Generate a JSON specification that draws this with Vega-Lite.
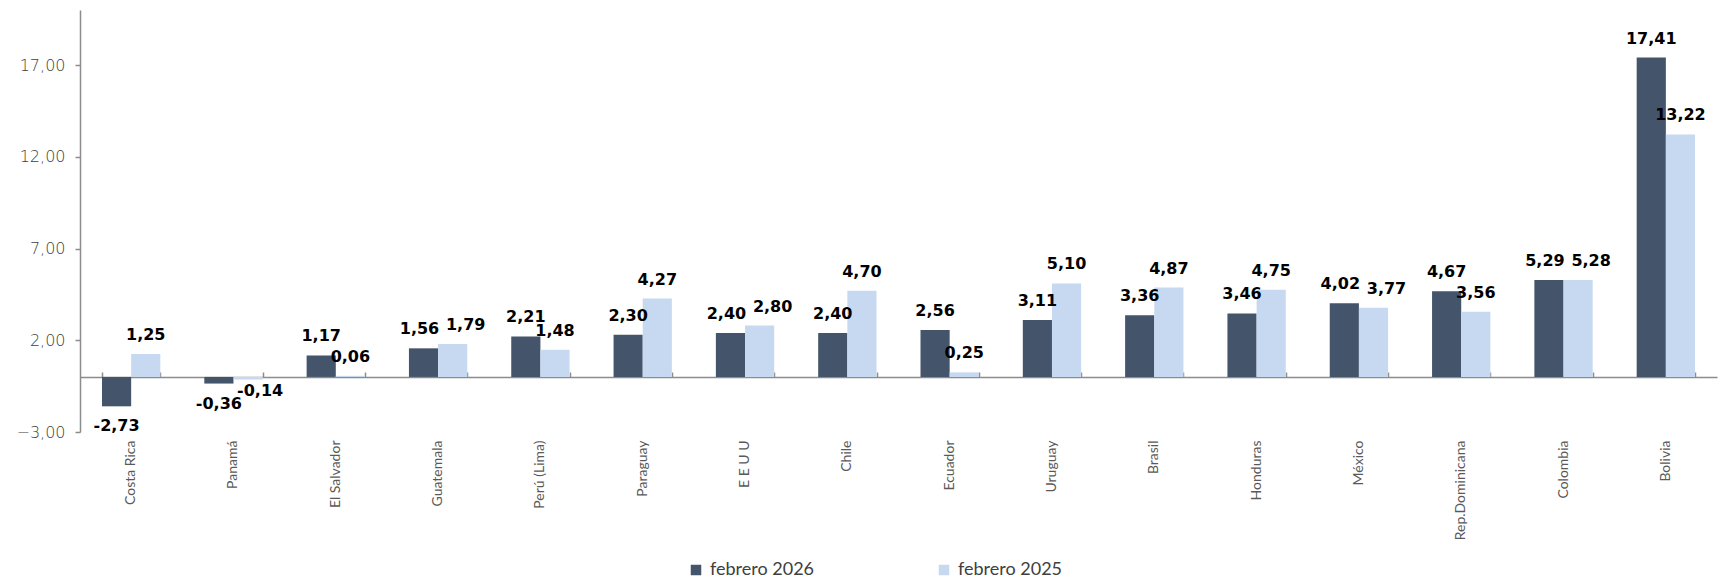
{
  "$schema": "https://vega.github.io/schema/vega-lite/v6.json",
  "width": 1637,
  "height": 422,
  "autosize": {"type": "none"},
  "padding": {"left": 80, "top": 10, "right": 9, "bottom": 146},
  "config": {
    "view": {"stroke": null},
    "font": "Lato"
  },
  "data": {
    "values": [
      {"pais": "Costa Rica", "periodo": "febrero 2026", "valor": -1.6, "etiqueta": "-2,73"},
      {"pais": "Costa Rica", "periodo": "febrero 2025", "valor": 1.25, "etiqueta": "1,25"},
      {"pais": "Panamá", "periodo": "febrero 2026", "valor": -0.36, "etiqueta": "-0,36"},
      {"pais": "Panamá", "periodo": "febrero 2025", "valor": -0.14, "etiqueta": "-0,14"},
      {"pais": "El Salvador", "periodo": "febrero 2026", "valor": 1.17, "etiqueta": "1,17"},
      {"pais": "El Salvador", "periodo": "febrero 2025", "valor": 0.06, "etiqueta": "0,06"},
      {"pais": "Guatemala", "periodo": "febrero 2026", "valor": 1.56, "etiqueta": "1,56"},
      {"pais": "Guatemala", "periodo": "febrero 2025", "valor": 1.79, "etiqueta": "1,79"},
      {"pais": "Perú (Lima)", "periodo": "febrero 2026", "valor": 2.21, "etiqueta": "2,21"},
      {"pais": "Perú (Lima)", "periodo": "febrero 2025", "valor": 1.48, "etiqueta": "1,48"},
      {"pais": "Paraguay", "periodo": "febrero 2026", "valor": 2.30, "etiqueta": "2,30"},
      {"pais": "Paraguay", "periodo": "febrero 2025", "valor": 4.27, "etiqueta": "4,27"},
      {"pais": "E E U U", "periodo": "febrero 2026", "valor": 2.40, "etiqueta": "2,40"},
      {"pais": "E E U U", "periodo": "febrero 2025", "valor": 2.80, "etiqueta": "2,80"},
      {"pais": "Chile", "periodo": "febrero 2026", "valor": 2.40, "etiqueta": "2,40"},
      {"pais": "Chile", "periodo": "febrero 2025", "valor": 4.70, "etiqueta": "4,70"},
      {"pais": "Ecuador", "periodo": "febrero 2026", "valor": 2.56, "etiqueta": "2,56"},
      {"pais": "Ecuador", "periodo": "febrero 2025", "valor": 0.25, "etiqueta": "0,25"},
      {"pais": "Uruguay", "periodo": "febrero 2026", "valor": 3.11, "etiqueta": "3,11"},
      {"pais": "Uruguay", "periodo": "febrero 2025", "valor": 5.10, "etiqueta": "5,10"},
      {"pais": "Brasil", "periodo": "febrero 2026", "valor": 3.36, "etiqueta": "3,36"},
      {"pais": "Brasil", "periodo": "febrero 2025", "valor": 4.87, "etiqueta": "4,87"},
      {"pais": "Honduras", "periodo": "febrero 2026", "valor": 3.46, "etiqueta": "3,46"},
      {"pais": "Honduras", "periodo": "febrero 2025", "valor": 4.75, "etiqueta": "4,75"},
      {"pais": "México", "periodo": "febrero 2026", "valor": 4.02, "etiqueta": "4,02"},
      {"pais": "México", "periodo": "febrero 2025", "valor": 3.77, "etiqueta": "3,77"},
      {"pais": "Rep.Dominicana", "periodo": "febrero 2026", "valor": 4.67, "etiqueta": "4,67"},
      {"pais": "Rep.Dominicana", "periodo": "febrero 2025", "valor": 3.56, "etiqueta": "3,56"},
      {"pais": "Colombia", "periodo": "febrero 2026", "valor": 5.29, "etiqueta": "5,29"},
      {"pais": "Colombia", "periodo": "febrero 2025", "valor": 5.28, "etiqueta": "5,28"},
      {"pais": "Bolivia", "periodo": "febrero 2026", "valor": 17.41, "etiqueta": "17,41"},
      {"pais": "Bolivia", "periodo": "febrero 2025", "valor": 13.22, "etiqueta": "13,22"}
    ]
  },
  "transform": [
    {"joinaggregate": [{"op": "max", "field": "valor", "as": "vmax"}, {"op": "min", "field": "valor", "as": "vmin"}], "groupby": ["pais"]}
  ],
  "layer": [
    {
      "mark": {"type": "bar"},
      "encoding": {
        "x": {
          "field": "pais", "type": "nominal", "sort": null,
          "scale": {"paddingInner": 0.43, "paddingOuter": 0.215},
          "axis": {"title": null, "orient": "bottom", "domain": false, "ticks": false, "labelAngle": -90, "labelAlign": "right", "labelBaseline": "middle", "labelPadding": 8, "labelFontSize": 14, "labelColor": "#595959"}
        },
        "xOffset": {"field": "periodo", "type": "nominal", "sort": ["febrero 2026", "febrero 2025"]},
        "y": {
          "field": "valor", "type": "quantitative",
          "scale": {"domain": [-3, 20], "nice": false, "zero": false},
          "axis": {"title": null, "values": [-3, 2, 7, 12, 17], "labelExpr": "replace(format(datum.value, '.2f'), '.', ',')", "grid": false, "domainColor": "#8c8c8c", "domainWidth": 1.5, "tickColor": "#8c8c8c", "tickSize": 5, "tickWidth": 1.5, "labelFont": "DejaVu Sans", "labelFontWeight": 200, "labelFontSize": 16, "labelColor": "#404040", "labelPadding": 10}
        },
        "color": {
          "field": "periodo", "type": "nominal", "sort": ["febrero 2026", "febrero 2025"],
          "scale": {"range": ["#44546A", "#C6D9F0"]},
          "legend": {"title": null, "orient": "none", "legendX": 607, "legendY": 551, "direction": "horizontal", "columns": 2, "symbolType": "square", "symbolSize": 110, "symbolStrokeWidth": 0, "labelFontSize": 18, "labelColor": "#404040", "columnPadding": 120, "labelOffset": 5, "padding": 0}
        }
      }
    },
    {
      "transform": [{"filter": "datum.valor >= 0 && (datum.vmax - datum.vmin) >= 0.6"}],
      "mark": {"type": "text", "baseline": "alphabetic", "dy": -14, "font": "DejaVu Sans", "fontSize": 16, "fontWeight": "bold", "color": "#000000"},
      "encoding": {
        "x": {"field": "pais", "type": "nominal", "sort": null, "axis": null},
        "xOffset": {"field": "periodo", "type": "nominal", "sort": ["febrero 2026", "febrero 2025"]},
        "y": {"field": "valor", "type": "quantitative"},
        "text": {"field": "etiqueta", "type": "nominal"}
      }
    },
    {
      "transform": [{"filter": "datum.valor >= 0 && (datum.vmax - datum.vmin) < 0.6 && datum.periodo == 'febrero 2026'"}],
      "mark": {"type": "text", "baseline": "alphabetic", "dy": -14, "dx": -4, "font": "DejaVu Sans", "fontSize": 16, "fontWeight": "bold", "color": "#000000"},
      "encoding": {
        "x": {"field": "pais", "type": "nominal", "sort": null, "axis": null},
        "xOffset": {"field": "periodo", "type": "nominal", "sort": ["febrero 2026", "febrero 2025"]},
        "y": {"field": "valor", "type": "quantitative"},
        "text": {"field": "etiqueta", "type": "nominal"}
      }
    },
    {
      "transform": [{"filter": "datum.valor >= 0 && (datum.vmax - datum.vmin) < 0.6 && datum.periodo == 'febrero 2025'"}],
      "mark": {"type": "text", "baseline": "alphabetic", "dy": -14, "dx": 13, "font": "DejaVu Sans", "fontSize": 16, "fontWeight": "bold", "color": "#000000"},
      "encoding": {
        "x": {"field": "pais", "type": "nominal", "sort": null, "axis": null},
        "xOffset": {"field": "periodo", "type": "nominal", "sort": ["febrero 2026", "febrero 2025"]},
        "y": {"field": "valor", "type": "quantitative"},
        "text": {"field": "etiqueta", "type": "nominal"}
      }
    },
    {
      "transform": [{"filter": "datum.valor < 0 && datum.periodo == 'febrero 2026'"}],
      "mark": {"type": "text", "baseline": "top", "dy": 12, "font": "DejaVu Sans", "fontSize": 16, "fontWeight": "bold", "color": "#000000"},
      "encoding": {
        "x": {"field": "pais", "type": "nominal", "sort": null, "axis": null},
        "xOffset": {"field": "periodo", "type": "nominal", "sort": ["febrero 2026", "febrero 2025"]},
        "y": {"field": "valor", "type": "quantitative"},
        "text": {"field": "etiqueta", "type": "nominal"}
      }
    },
    {
      "transform": [{"filter": "datum.valor < 0 && datum.periodo == 'febrero 2025'"}],
      "mark": {"type": "text", "baseline": "top", "align": "left", "dx": -11, "dy": 3, "font": "DejaVu Sans", "fontSize": 16, "fontWeight": "bold", "color": "#000000"},
      "encoding": {
        "x": {"field": "pais", "type": "nominal", "sort": null, "axis": null},
        "xOffset": {"field": "periodo", "type": "nominal", "sort": ["febrero 2026", "febrero 2025"]},
        "y": {"field": "valor", "type": "quantitative"},
        "text": {"field": "etiqueta", "type": "nominal"}
      }
    },
    {
      "mark": {"type": "text", "text": ""},
      "encoding": {
        "x": {
          "field": "pais", "type": "nominal", "sort": null,
          "axis": {"title": null, "orient": "bottom", "labels": false, "offset": -55, "domainColor": "#8c8c8c", "domainWidth": 1.5, "tickBand": "extent", "tickColor": "#8c8c8c", "tickSize": -5, "tickWidth": 1.5}
        }
      }
    }
  ],
  "resolve": {"axis": {"x": "independent"}}
}
